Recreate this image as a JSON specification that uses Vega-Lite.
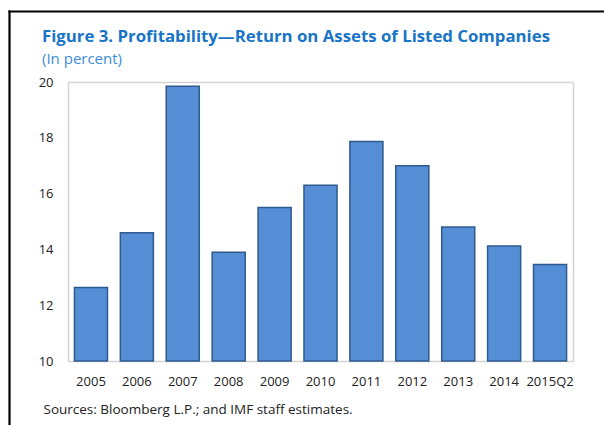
{
  "$schema": "https://vega.github.io/schema/vega-lite/v6.json",
  "autosize": {"type": "none"},
  "padding": {"left": 9, "top": 11, "right": 0, "bottom": 0},
  "width": 595,
  "height": 414,
  "background": "white",
  "config": {
    "view": {"stroke": null},
    "font": "Open Sans",
    "axis": {"grid": false, "ticks": false}
  },
  "title": {
    "text": "Figure 3. Profitability\u2014Return on Assets of Listed Companies",
    "subtitle": "(In percent)",
    "anchor": "start",
    "frame": "group",
    "dx": 33,
    "offset": -56,
    "font": "Open Sans",
    "fontSize": 16.8,
    "fontWeight": "bold",
    "color": "#1874C6",
    "subtitleFont": "Open Sans",
    "subtitleFontSize": 15,
    "subtitleColor": "#3B8ED6",
    "subtitlePadding": 6
  },
  "data": {
    "values": [
      {"year": "2005", "value": 12.63},
      {"year": "2006", "value": 14.6},
      {"year": "2007", "value": 19.85},
      {"year": "2008", "value": 13.9},
      {"year": "2009", "value": 15.5},
      {"year": "2010", "value": 16.3},
      {"year": "2011", "value": 17.87},
      {"year": "2012", "value": 17.0},
      {"year": "2013", "value": 14.8},
      {"year": "2014", "value": 14.12},
      {"year": "2015Q2", "value": 13.46}
    ]
  },
  "resolve": {
    "scale": {"x": "independent", "y": "independent"},
    "axis": {"x": "independent", "y": "independent"}
  },
  "layer": [
    {
      "mark": {"type": "bar", "fill": "#558ED5", "stroke": "#2E5A8E", "strokeWidth": 1.5},
      "encoding": {
        "x": {
          "field": "year", "type": "nominal", "sort": null,
          "scale": {"range": [59, 564], "paddingInner": 0.28, "paddingOuter": 0.14},
          "axis": {
            "orient": "bottom", "offset": -64, "labelAngle": 0,
            "labelFont": "Open Sans", "labelFontSize": 13, "labelColor": "#222222", "labelPadding": 14,
            "domainColor": "#D4D4D4", "domainWidth": 1.5,
            "title": "Sources: Bloomberg L.P.; and IMF staff estimates.",
            "titleFont": "Open Sans", "titleFontSize": 13.5, "titleFontWeight": "normal", "titleColor": "#222222",
            "titleAlign": "left", "titleBaseline": "alphabetic", "titleX": 34, "titleY": 52, "titleAnchor": "start"
          }
        },
        "y": {
          "field": "value", "type": "quantitative",
          "scale": {"domain": [10, 20], "range": [350, 71], "zero": false, "nice": false},
          "axis": {
            "orient": "left", "offset": -59, "values": [10, 12, 14, 16, 18, 20],
            "labelFont": "Open Sans", "labelFontSize": 13, "labelColor": "#222222", "labelPadding": 15,
            "domainColor": "#D4D4D4", "domainWidth": 1.5, "title": null
          }
        },
        "y2": {"datum": 10}
      }
    },
    {
      "mark": {"type": "bar", "opacity": 0},
      "encoding": {
        "x": {
          "field": "year", "type": "nominal", "sort": null,
          "scale": {"range": [59, 564]},
          "axis": {"orient": "top", "offset": -71, "labels": false, "title": null, "domainColor": "#D4D4D4", "domainWidth": 1.5}
        },
        "y": {
          "field": "value", "type": "quantitative",
          "scale": {"domain": [10, 20], "range": [350, 71], "zero": false, "nice": false},
          "axis": {"orient": "right", "offset": -31, "labels": false, "title": null, "domainColor": "#D4D4D4", "domainWidth": 1.5}
        }
      }
    },
    {
      "mark": {"type": "bar", "opacity": 0},
      "encoding": {
        "x": {
          "field": "year", "type": "nominal", "sort": null,
          "scale": {"range": [0, 595]},
          "axis": {"orient": "top", "offset": 0, "labels": false, "title": null, "domainColor": "#000000", "domainWidth": 2.2, "domainCap": "square"}
        },
        "y": {
          "field": "value", "type": "quantitative",
          "scale": {"domain": [10, 20], "range": [414, 0], "zero": false, "nice": false},
          "axis": {"orient": "left", "offset": 0, "labels": false, "title": null, "domainColor": "#000000", "domainWidth": 2.2, "domainCap": "square"}
        }
      }
    }
  ]
}
